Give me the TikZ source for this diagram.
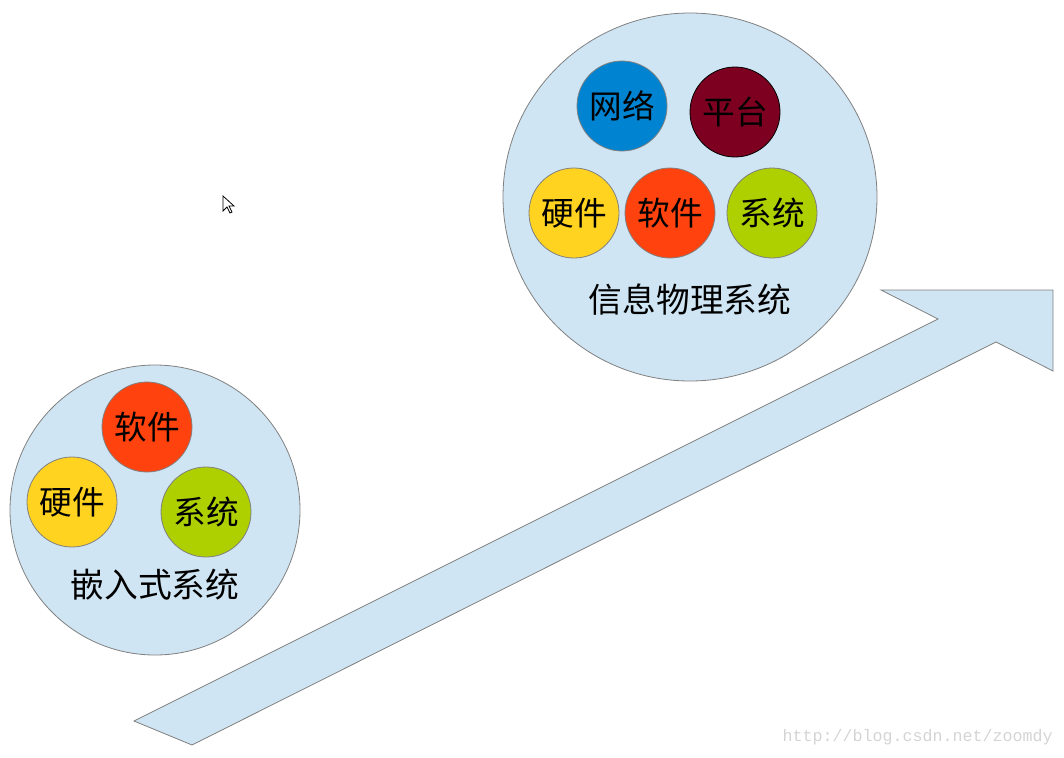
\documentclass[tikz,border=0pt]{standalone}
\usepackage{fontspec}
\newfontfamily\cjk{Noto Sans CJK SC}
\newfontfamily\wm{Liberation Mono}
\definecolor{paleblue}{HTML}{CFE5F3}
\definecolor{edgegray}{HTML}{808080}
\definecolor{netblue}{HTML}{0084D1}
\definecolor{platred}{HTML}{7E0021}
\definecolor{hwyellow}{HTML}{FFD320}
\definecolor{swred}{HTML}{FF420E}
\definecolor{sysgreen}{HTML}{AECF00}
\definecolor{wmgray}{HTML}{D4D4D4}
\begin{document}
\begin{tikzpicture}[x=0.75pt,y=-0.75pt,
  big/.style={draw=edgegray,fill=paleblue,line width=0.6pt},
  ball/.style={circle,draw=edgegray,line width=0.6pt,minimum size=67.5pt,inner sep=0pt,font=\cjk\fontsize{24.5}{26}\selectfont},
  lbl/.style={font=\cjk\fontsize{25.3}{27}\selectfont,inner sep=0pt}]
\useasboundingbox (0,0) rectangle (1064,757);
% arrow
\filldraw[big] (134,721) -- (192,745) -- (996,342) -- (1053,371) -- (1053,290) -- (881,290) -- (938,319) -- cycle;
% right big circle
\filldraw[big] (690,197) ellipse [x radius=187, y radius=184];
\node[ball,fill=netblue] (net) at (622,106) {网络};
\node[ball,fill=platred,draw=black] (plat) at (735,112) {平台};
\node[ball,fill=hwyellow] (hw2) at (574,213) {硬件};
\node[ball,fill=swred] (sw2) at (670,213) {软件};
\node[ball,fill=sysgreen] (sys2) at (772,213) {系统};
\node[lbl] (cps) at (690,300) {信息物理系统};
% left big circle
\filldraw[big] (155,510) circle [radius=145];
\node[ball,fill=swred] (sw1) at (147,427) {软件};
\node[ball,fill=hwyellow] (hw1) at (72,502) {硬件};
\node[ball,fill=sysgreen] (sys1) at (206,512) {系统};
\node[lbl] (emb) at (155,585) {嵌入式系统};
% cursor
\filldraw[fill=white,draw=black,line width=0.6pt,line join=miter] (223,196) -- (223,211) -- (227,207) -- (230,213) -- (232,212) -- (229,206) -- (234,206) -- cycle;
% watermark
\node[font=\wm\fontsize{12.5}{14}\selectfont,text=wmgray,anchor=east,inner sep=0pt] (wmk) at (1053,737) {http://blog.csdn.net/zoomdy};
\end{tikzpicture}
\end{document}
